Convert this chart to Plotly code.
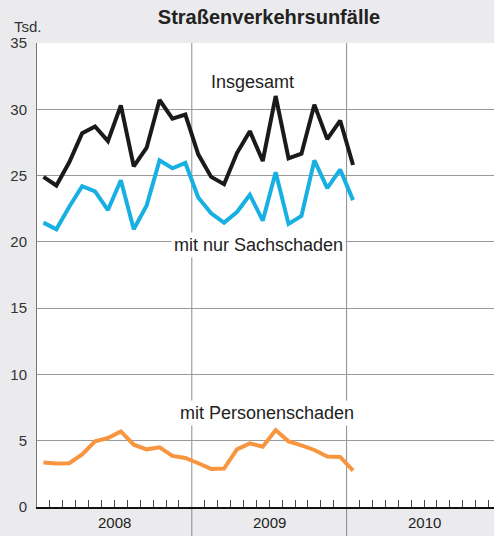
import plotly.graph_objects as go

months = ["Jan 08","Feb 08","Mär 08","Apr 08","Mai 08","Jun 08","Jul 08","Aug 08","Sep 08","Okt 08","Nov 08","Dez 08",
          "Jan 09","Feb 09","Mär 09","Apr 09","Mai 09","Jun 09","Jul 09","Aug 09","Sep 09","Okt 09","Nov 09","Dez 09",
          "Jan 10"]
insgesamt = [24.9, 24.25, 26.0, 28.2, 28.7, 27.6, 30.3, 25.7, 27.1, 30.7, 29.3, 29.6,
             26.6, 24.9, 24.35, 26.7, 28.35, 26.1, 31.0, 26.3, 26.65, 30.35, 27.75, 29.15, 25.8]
sachschaden = [21.45, 20.95, 22.65, 24.2, 23.8, 22.4, 24.65, 20.95, 22.75, 26.15, 25.55, 25.95,
               23.35, 22.15, 21.45, 22.25, 23.55, 21.6, 25.25, 21.35, 21.95, 26.15, 24.05, 25.45, 23.15]
personenschaden = [3.35, 3.28, 3.3, 3.97, 4.95, 5.2, 5.7, 4.7, 4.35, 4.5, 3.85, 3.7,
                   3.3, 2.87, 2.9, 4.35, 4.8, 4.55, 5.8, 4.95, 4.65, 4.3, 3.8, 3.78, 2.75]
years = ["2008", "2009", "2010"]
yticks = [0, 5, 10, 15, 20, 25, 30, 35]

xpos = [i + 0.5 for i in range(len(months))]
FONT = "Liberation Sans, Arial, Helvetica, sans-serif"

fig = go.Figure()
fig.add_trace(go.Scatter(x=xpos, y=insgesamt, mode="lines", line=dict(color="#1a1a1a", width=4),
                         hoverinfo="skip", showlegend=False))
fig.add_trace(go.Scatter(x=xpos, y=sachschaden, mode="lines", line=dict(color="#18b0e2", width=4),
                         hoverinfo="skip", showlegend=False))
fig.add_trace(go.Scatter(x=xpos, y=personenschaden, mode="lines", line=dict(color="#f7963f", width=4),
                         hoverinfo="skip", showlegend=False))

W, H = 494, 536
ml, mr, mt, mb = 37, 0, 43, 29
ph = H - mt - mb

# year dividers
for xv in [12, 24]:
    fig.add_shape(type="line", xref="x", yref="paper", x0=xv, x1=xv, y0=-mb / ph, y1=1,
                  line=dict(color="#8c8c8c", width=1), layer="below")

for i, yr in enumerate(years):
    fig.add_annotation(x=12 * i + 6, y=-15 / ph, xref="x", yref="paper", text=yr, showarrow=False,
                       font=dict(family=FONT, size=15, color="#222"), yanchor="middle")

fig.add_annotation(x=16.7, y=32.05, text="Insgesamt", showarrow=False,
                   font=dict(family=FONT, size=18, color="#222"))
fig.add_annotation(x=17.17, y=19.76, text="mit nur Sachschaden", showarrow=False, bgcolor="white",
                   borderpad=2, font=dict(family=FONT, size=18, color="#222"))
fig.add_annotation(x=17.8, y=7.09, text="mit Personenschaden", showarrow=False, bgcolor="white",
                   borderpad=2, font=dict(family=FONT, size=18, color="#222"))

fig.add_annotation(x=(12 - ml) / (W - ml - mr), y=(ph + mt - 27) / ph, xref="paper", yref="paper",
                   text="Tsd.", showarrow=False, xanchor="left", yanchor="middle",
                   font=dict(family=FONT, size=15, color="#333"))

minor = [m for m in range(1, 36) if m not in (12, 24)]

fig.update_layout(
    width=W, height=H,
    margin=dict(l=ml, r=mr, t=mt, b=mb),
    paper_bgcolor="#ebebed", plot_bgcolor="white",
    title=dict(text="<b>Straßenverkehrsunfälle</b>", x=269 / W, xanchor="center", y=1 - 17 / H,
               yanchor="middle", font=dict(family=FONT, size=20, color="#222")),
    xaxis=dict(range=[0, (W - ml - mr) / 12.9], showgrid=False, zeroline=False,
               showticklabels=False, ticks="inside", tickvals=minor, ticklen=7, tickwidth=1,
               tickcolor="#444", showline=True, linecolor="#111", linewidth=2),
    yaxis=dict(range=[0, 35], tickvals=yticks, showgrid=True, gridcolor="#9a9a9a", gridwidth=1,
               zeroline=False, showline=True, linecolor="#777", linewidth=1,
               ticks="outside", ticklen=6, tickcolor="rgba(0,0,0,0)",
               tickfont=dict(family=FONT, size=15, color="#333")),
)

fig.write_html("out.html", config={"displayModeBar": False, "staticPlot": True})

with open("out.html", "r", encoding="utf-8") as f:
    html = f.read()
html = html.replace("<head>", "<head><style>html,body{margin:0;padding:0;overflow:hidden;}</style>", 1)
with open("out.html", "w", encoding="utf-8") as f:
    f.write(html)
